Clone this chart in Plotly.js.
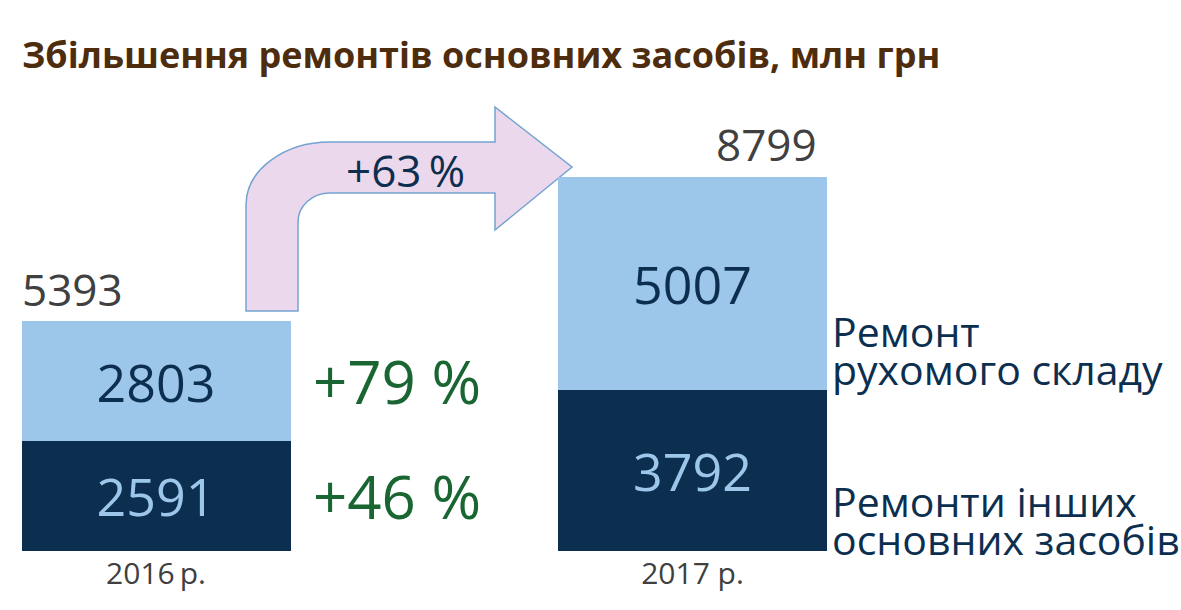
<!DOCTYPE html>
<html>
<head>
<meta charset="utf-8">
<script src="https://cdn.plot.ly/plotly-3.0.1.min.js"></script>
<style>
html,body{margin:0;padding:0;background:#fff;}
#chart{width:1181px;height:610px;}
</style>
</head>
<body>
<div id="chart"></div>
<script>
// ---- data ----
const years = ["2016\u2009р.", "2017 р."];
const otherAssets = [2591, 3792];      // Ремонти інших основних засобів
const rollingStock = [2803, 5007];     // Ремонт рухомого складу
const totals = [5393, 8799];
const growthOther = "+46 %";
const growthRolling = "+79 %";
const growthTotal = "+63\u2009%";
const titleText = "Збільшення ремонтів основних засобів, млн грн";
const legendRolling = ["Ремонт", "рухомого складу"];
const legendOther = ["Ремонти інших", "основних засобів"];

// ---- layout helpers ----
const W = 1181, H = 610, MB = 59;
const PB = H - MB;                 // plot bottom in pixels
const px = x => x / W;             // pixel -> paper x
const py = y => (PB - y) / PB;     // pixel -> paper y

const navy = "#0d2f4f";
const light = "#9dc7ea";
const green = "#1a6632";
const grey = "#404040";
const FONT = "Open Sans, sans-serif";

const traces = [
  {
    type: "bar", x: years, y: otherAssets, name: legendOther.join(" "),
    marker: {color: navy, line: {width: 0}},
    text: otherAssets.map(String), textposition: "inside", insidetextanchor: "middle",
    textangle: 0, constraintext: "none",
    textfont: {family: FONT, size: 52, color: light},
    width: 0.5014, hoverinfo: "skip"
  },
  {
    type: "bar", x: years, y: rollingStock, name: legendRolling.join(" "),
    marker: {color: light, line: {width: 0}},
    text: rollingStock.map(String), textposition: "inside", insidetextanchor: "middle",
    textangle: 0, constraintext: "none",
    textfont: {family: FONT, size: 52, color: navy},
    width: 0.5014, hoverinfo: "skip"
  }
];

// arrow path (decorative), in pixel space converted to paper
function P(x, y) { return px(x).toFixed(5) + "," + py(y).toFixed(5); }
const arrowPath =
  "M" + P(246, 311) + " L" + P(246, 205) +
  " C" + P(246, 170) + " " + P(284, 142) + " " + P(330, 142) +
  " L" + P(495, 142) + " L" + P(495, 107) + " L" + P(572, 167) +
  " L" + P(495, 230) + " L" + P(495, 193) + " L" + P(330, 193) +
  " C" + P(312, 193) + " " + P(298, 206) + " " + P(298, 222) +
  " L" + P(298, 311) + " Z";

const legFont = {family: FONT, size: 41, color: navy};
const annotations = [
  {text: titleText, xref: "paper", yref: "paper", x: px(20), y: py(55),
   xanchor: "left", yanchor: "middle", showarrow: false,
   font: {family: FONT, size: 36, color: "#4e2c0e", weight: 700}},
  // totals
  {text: String(totals[0]), x: years[0], y: totals[0], xref: "x", yref: "y",
   xanchor: "left", yanchor: "bottom", xshift: -136, yshift: 1, showarrow: false,
   font: {family: FONT, size: 44, color: grey}},
  {text: String(totals[1]), x: years[1], y: totals[1], xref: "x", yref: "y",
   xanchor: "right", yanchor: "bottom", xshift: 126, yshift: 1, showarrow: false,
   font: {family: FONT, size: 44, color: grey}},
  // growth
  {text: growthRolling, x: 0.45, y: otherAssets[0] + rollingStock[0] / 2, xref: "x", yref: "y",
   xanchor: "center", yanchor: "middle", showarrow: false,
   font: {family: FONT, size: 60, color: green}},
  {text: growthOther, x: 0.45, y: otherAssets[0] / 2, xref: "x", yref: "y",
   xanchor: "center", yanchor: "middle", showarrow: false,
   font: {family: FONT, size: 60, color: green}},
  {text: growthTotal, xref: "paper", yref: "paper", x: px(405), y: py(170),
   xanchor: "center", yanchor: "middle", showarrow: false,
   font: {family: FONT, size: 44, color: navy}},
  // legend text
  {text: legendRolling[0], xref: "paper", yref: "paper", x: px(830), y: py(331),
   xanchor: "left", yanchor: "middle", showarrow: false, font: legFont},
  {text: legendRolling[1], xref: "paper", yref: "paper", x: px(830), y: py(369),
   xanchor: "left", yanchor: "middle", showarrow: false, font: legFont},
  {text: legendOther[0], xref: "paper", yref: "paper", x: px(830), y: py(501),
   xanchor: "left", yanchor: "middle", showarrow: false, font: legFont},
  {text: legendOther[1], xref: "paper", yref: "paper", x: px(830), y: py(539),
   xanchor: "left", yanchor: "middle", showarrow: false, font: legFont}
];

const layout = {
  width: W, height: H,
  margin: {l: 0, r: 0, t: 0, b: MB, pad: 0},
  paper_bgcolor: "#ffffff", plot_bgcolor: "#ffffff",
  barmode: "stack", bargap: 0, showlegend: false,
  xaxis: {type: "category", range: [-0.2908, 1.9105], showgrid: false, zeroline: false,
          showline: false, ticks: "", fixedrange: true, ticklabelstandoff: 2,
          tickfont: {family: FONT, size: 30, color: grey}},
  yaxis: {range: [0, 12950], visible: false, showgrid: false, zeroline: false, fixedrange: true},
  shapes: [{type: "path", xref: "paper", yref: "paper", path: arrowPath,
            fillcolor: "#ecd8ec", line: {color: "#74a3d1", width: 1.5}, layer: "below"}],
  annotations: annotations
};

Plotly.newPlot("chart", traces, layout, {displayModeBar: false, staticPlot: true});
</script>
</body>
</html>
